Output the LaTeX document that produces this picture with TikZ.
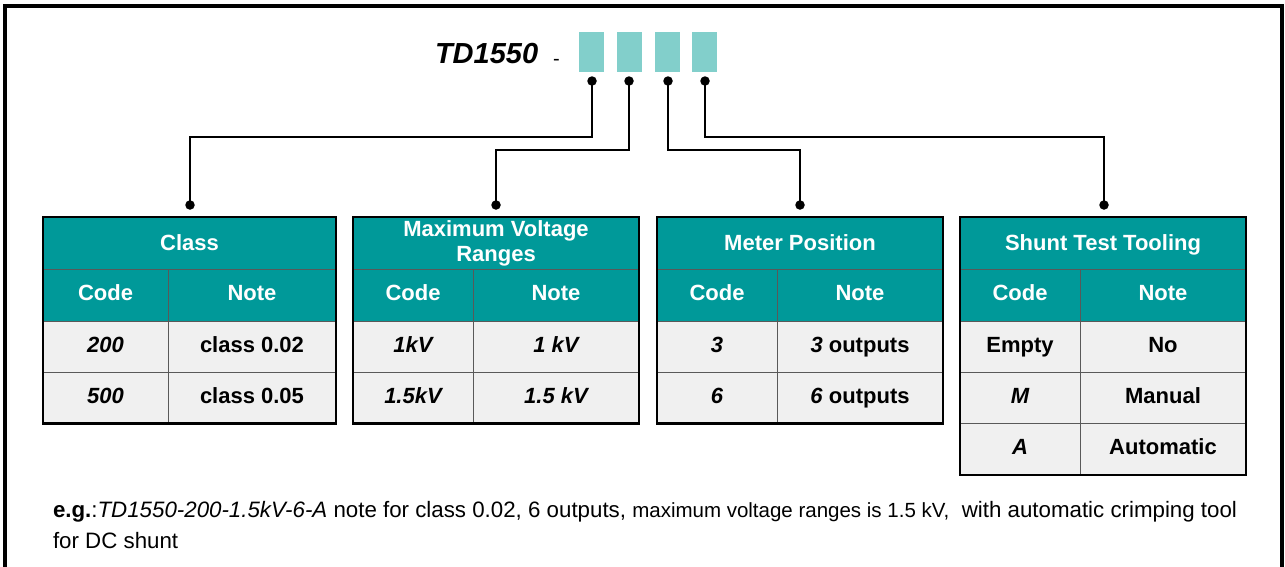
\documentclass[tikz,border=0pt]{standalone}
\usepackage{fontspec}
\setmainfont{Liberation Sans}
\definecolor{tealhead}{HTML}{009999}
\definecolor{lteal}{HTML}{82CFCB}
\definecolor{rowgray}{HTML}{F0F0F0}
\tikzset{
  cellbase/.style={draw=black!65, line width=0.8pt, inner sep=0pt, outer sep=0pt,
    font=\fontsize{22}{25}\selectfont\bfseries, align=center},
  titlecell/.style={cellbase, fill=tealhead, text=white},
  headcell/.style={cellbase, fill=tealhead, text=white, text height=15.8pt, text depth=4.6pt},
  datacell/.style={cellbase, fill=rowgray, text=black, text height=15.8pt, text depth=4.6pt},
  tabframe/.style={draw=black, line width=2.6pt},
  topbox/.style={fill=lteal, draw=none, minimum width=25pt, minimum height=40pt, inner sep=0pt},
  dotn/.style={circle, fill=black, draw=none, minimum size=9.5pt, inner sep=0pt},
  conn/.style={draw=black, line width=2.2pt},
  plaintext/.style={inner sep=0pt, outer sep=0pt, anchor=base west}
}
\newcommand\spectab[5]{%
  \node[titlecell, minimum width={#4-#2}, minimum height=52] (#1) at ({(#2+#4)/2},243) {#5};
  \node[headcell, minimum width={#3-#2}, minimum height=52] (#1code) at ({(#2+#3)/2},295) {Code};
  \node[headcell, minimum width={#4-#3}, minimum height=52] (#1note) at ({(#3+#4)/2},295) {Note};
}
\newcommand\specrow[8]{%
  \node[datacell, minimum width={#3-#2}, minimum height={#6-#5}] (#1c) at ({(#2+#3)/2},{(#5+#6)/2}) {#7};
  \node[datacell, minimum width={#4-#3}, minimum height={#6-#5}] (#1n) at ({(#3+#4)/2},{(#5+#6)/2}) {#8};
}
\begin{document}
\begin{tikzpicture}[x=1pt,y=-1pt]
\clip (0,0) rectangle (1285,566);
\fill[white] (0,0) rectangle (1285,566);
\draw[line width=4pt] (5,6) rectangle (1282,572);

% part number
\node[plaintext, font=\fontsize{29}{30}\selectfont\bfseries\itshape] (pn) at (435,63) {TD1550};
\node[plaintext, font=\fontsize{20}{22}\selectfont] (dash) at (553,65) {-};
\node[topbox] (b1) at (591.5,52) {};
\node[topbox] (b2) at (629.5,52) {};
\node[topbox] (b3) at (667.5,52) {};
\node[topbox] (b4) at (704.5,52) {};
\node[dotn] (d1) at (592,81) {};
\node[dotn] (d2) at (629,81) {};
\node[dotn] (d3) at (668,81) {};
\node[dotn] (d4) at (705,81) {};

% tables
\spectab{A}{43}{168}{336}{Class}
\specrow{Ar1}{43}{168}{336}{321}{372}{\itshape 200}{class 0.02}
\specrow{Ar2}{43}{168}{336}{372}{423.5}{\itshape 500}{class 0.05}
\draw[tabframe] (A.north west) rectangle (Ar2n.south east);

\spectab{B}{353}{473}{639}{\fontsize{22}{27}\selectfont Maximum Voltage\\Ranges}
\specrow{Br1}{353}{473}{639}{321}{372}{\itshape 1kV}{\itshape 1 kV}
\specrow{Br2}{353}{473}{639}{372}{423.5}{\itshape 1.5kV}{\itshape 1.5 kV}
\draw[tabframe] (B.north west) rectangle (Br2n.south east);

\spectab{C}{657}{777}{943}{Meter Position}
\specrow{Cr1}{657}{777}{943}{321}{372}{\itshape 3}{\textit{3} outputs}
\specrow{Cr2}{657}{777}{943}{372}{423.5}{\itshape 6}{\textit{6} outputs}
\draw[tabframe] (C.north west) rectangle (Cr2n.south east);

\spectab{D}{960}{1080}{1246}{\raisebox{0pt}[\height][0pt]{Shunt Test Tooling}}
\specrow{Dr1}{960}{1080}{1246}{321}{372}{Empty}{No}
\specrow{Dr2}{960}{1080}{1246}{372}{423.5}{\itshape M}{Manual}
\specrow{Dr3}{960}{1080}{1246}{423.5}{475}{\itshape A}{Automatic}
\draw[tabframe] (D.north west) rectangle (Dr3n.south east);

% table top dots
\node[dotn] (e1) at (190,205) {};
\node[dotn] (e2) at (496,205) {};
\node[dotn] (e3) at (800,205) {};
\node[dotn] (e4) at (1104,205) {};

% connectors
\coordinate (k1) at (592,137);
\coordinate (k2) at (629,150);
\coordinate (k3) at (668,150);
\coordinate (k4) at (705,137);
\draw[conn] (d1.center) -- (k1) -| (e1.center);
\draw[conn] (d2.center) -- (k2) -| (e2.center);
\draw[conn] (d3.center) -- (k3) -| (e3.center);
\draw[conn] (d4.center) -- (k4) -| (e4.center);

% note
\node[plaintext, font=\fontsize{22.3}{24}\selectfont] (note1) at (53,517)
  {\textbf{e.g.}:\textit{TD1550-200-1.5kV-6-A} note for class 0.02, 6 outputs, {\fontsize{20.5}{22}\selectfont maximum voltage ranges is 1.5 kV,}\ \ with automatic crimping tool};
\node[plaintext, font=\fontsize{22.3}{24}\selectfont] (note2) at (53,548) {for DC shunt};
\end{tikzpicture}
\end{document}
